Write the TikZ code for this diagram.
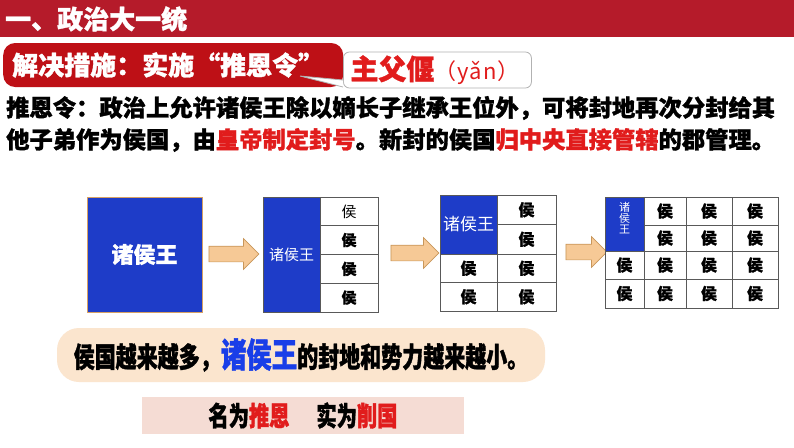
\documentclass[tikz,border=0pt]{standalone}
\usepackage{fontspec}
\setmainfont{Noto Sans CJK SC}
\newfontfamily\cjk[BoldFeatures={FakeBold=1.2}]{Noto Sans CJK SC}
\newfontfamily\cjktall[FakeStretch=0.75, BoldFeatures={FakeBold=1.2}]{Noto Sans CJK SC}
\usetikzlibrary{shapes.arrows}
\definecolor{bannerred}{RGB}{181,27,42}
\definecolor{boxred}{RGB}{190,16,22}
\definecolor{textred}{RGB}{225,28,28}
\definecolor{kingblue}{RGB}{30,60,200}
\definecolor{brightblue}{RGB}{25,62,232}
\definecolor{kingedge}{RGB}{214,160,100}
\definecolor{arrowfill}{RGB}{246,201,150}
\definecolor{arrowdraw}{RGB}{200,150,90}
\definecolor{peach}{RGB}{251,229,206}
\definecolor{rosy}{RGB}{245,220,212}
\newcommand{\setfs}[1]{\fontsize{#1}{#1}\selectfont}

\begin{document}
\begin{tikzpicture}[x=1pt, y=-1pt, every node/.style={font=\cjk}]
        \tikzset{
            king/.style={draw=gray!70!black, fill=kingblue, text=white, inner sep=0pt, line width=0.6pt},
            cell/.style={draw=gray!70!black, fill=white, inner sep=0pt, line width=0.6pt, font=\cjk\bfseries\setfs{16}},
            push/.style={single arrow, draw=arrowdraw, fill=arrowfill, line width=0.7pt, inner xsep=0pt, inner ysep=7.5pt, single arrow head extend=7.5pt},
            line/.style={anchor=west, inner sep=0pt, font=\cjk\bfseries\setfs{23.3}}
        }
        \useasboundingbox (0,0) rectangle (794,447);
        \fill[white] (0,0) rectangle (794,447);
        % heading
        \node[fill=bannerred, minimum width=794pt, minimum height=37pt, inner sep=0pt, anchor=north west] (banner) at (0,0) {};
        \node[anchor=west, text=white, inner sep=0pt, font=\cjk\bfseries\setfs{26}] (title) at (5,19) {一、政治大一统};
        \node[fill=boxred, rounded corners=12pt, minimum height=44pt, text width=322pt, align=left, inner xsep=9pt, inner ysep=0pt, text=white, font=\cjk\bfseries\setfs{26}, anchor=west] (measure) at (3,65) {解决措施：实施“推恩令”};
        \node[draw=gray!60, fill=white, rounded corners=6pt, minimum height=36pt, text width=174pt, align=left, inner xsep=7pt, inner ysep=0pt, text=textred, anchor=west, line width=0.8pt] (fu) at (343,70) {{\bfseries\setfs{28}主父偃}{\setfs{22}（\hspace{1pt}y\hspace{1pt}ǎ\hspace{1pt}n\hspace{1pt}）}};
        \coordinate (tip) at (300,76);
        \fill[white] (tip) -- ([yshift=-10pt]fu.west) -- ([yshift=-17pt]fu.west) -- cycle;
        \draw[gray!60, line width=0.8pt] ([yshift=-10pt]fu.west) -- (tip) -- ([yshift=-17pt]fu.west);
        % explanation
        \node[line] (rule1) at (6,108) {推恩令：政治上允许诸侯王除以嫡长子继承王位外，可将封地再次分封给其};
        \node[line] (rule2) at (6,140) {他子弟作为侯国，由\textcolor{textred}{皇帝制定封号}。新封的侯国\textcolor{textred}{归中央直接管辖}的郡管理。};
        % stage 1
        \node[king, draw=kingedge, minimum width=115pt, minimum height=115pt, font=\cjk\bfseries\setfs{22}] (king1) at (144.5,254.5) {诸侯王};
        \node[push, minimum height=50pt] (arrow1) at (230,254) {};
        % stage 2
        \node[king, minimum width=57pt, minimum height=115pt, font=\cjk\setfs{15}] (king2) at (291.5,254.5) {诸侯王};
        \node[cell, minimum width=58pt, minimum height=28.75pt, font=\cjk\setfs{15}] (hou2a) at (349,211.4) {侯};
        \node[cell, minimum width=58pt, minimum height=28.75pt, font=\cjk\bfseries\setfs{15}] (hou2b) at (349,240.1) {侯};
        \node[cell, minimum width=58pt, minimum height=28.75pt, font=\cjk\bfseries\setfs{15}] (hou2c) at (349,268.9) {侯};
        \node[cell, minimum width=58pt, minimum height=28.75pt, font=\cjk\bfseries\setfs{15}] (hou2d) at (349,297.6) {侯};
        \node[push, minimum height=48pt] (arrow2) at (411,253) {};
        % stage 3
        \node[king, minimum width=57pt, minimum height=59pt, font=\cjk\setfs{17}] (king3) at (468.5,224.5) {诸侯王};
        \node[cell, minimum width=59pt, minimum height=29.5pt] (hou3a) at (526.5,209.75) {侯};
        \node[cell, minimum width=59pt, minimum height=29.5pt] (hou3b) at (526.5,239.25) {侯};
        \node[cell, minimum width=57pt, minimum height=28.5pt] (hou3c) at (468.5,268.25) {侯};
        \node[cell, minimum width=59pt, minimum height=28.5pt] (hou3d) at (526.5,268.25) {侯};
        \node[cell, minimum width=57pt, minimum height=28.5pt] (hou3e) at (468.5,296.75) {侯};
        \node[cell, minimum width=59pt, minimum height=28.5pt] (hou3f) at (526.5,296.75) {侯};
        \node[push, minimum height=41pt] (arrow3) at (582.5,252) {};
        % stage 4
        \node[king, minimum width=39pt, minimum height=54pt, align=center, font=\cjk\setfs{11}] (king4) at (624.5,224) {诸\\[0pt]侯\\[0pt]王\\[2pt]};
        \node[cell, minimum width=39pt, minimum height=28pt] (hou4a) at (624.5,265) {侯};
        \node[cell, minimum width=39pt, minimum height=29pt] (hou4b) at (624.5,293.5) {侯};
        \node[cell, minimum width=42pt, minimum height=28pt] (hou4c) at (665,211) {侯};
        \node[cell, minimum width=42pt, minimum height=26pt] (hou4d) at (665,238) {侯};
        \node[cell, minimum width=42pt, minimum height=28pt] (hou4e) at (665,265) {侯};
        \node[cell, minimum width=42pt, minimum height=29pt] (hou4f) at (665,293.5) {侯};
        \node[cell, minimum width=46pt, minimum height=28pt] (hou4g) at (709,211) {侯};
        \node[cell, minimum width=46pt, minimum height=26pt] (hou4h) at (709,238) {侯};
        \node[cell, minimum width=46pt, minimum height=28pt] (hou4i) at (709,265) {侯};
        \node[cell, minimum width=46pt, minimum height=29pt] (hou4j) at (709,293.5) {侯};
        \node[cell, minimum width=46pt, minimum height=28pt] (hou4k) at (755,211) {侯};
        \node[cell, minimum width=46pt, minimum height=26pt] (hou4l) at (755,238) {侯};
        \node[cell, minimum width=46pt, minimum height=28pt] (hou4m) at (755,265) {侯};
        \node[cell, minimum width=46pt, minimum height=29pt] (hou4n) at (755,293.5) {侯};
        % conclusion
        \node[fill=peach, rounded corners=22pt, minimum width=488pt, minimum height=54pt, inner sep=0pt, font=\cjktall\bfseries\setfs{28}] (result) at (301,355) {侯国越来越多，{\color{brightblue}\setfs{34}诸侯王}的封地和势力越来越小。};
        \node[fill=rosy, minimum width=322pt, minimum height=37pt, inner sep=0pt, font=\cjktall\bfseries\setfs{27}] (verdict) at (303,415.5) {名为\textcolor{textred}{推恩}\hspace{1em}实为\textcolor{textred}{削国}};
    \end{tikzpicture}
\end{document}
